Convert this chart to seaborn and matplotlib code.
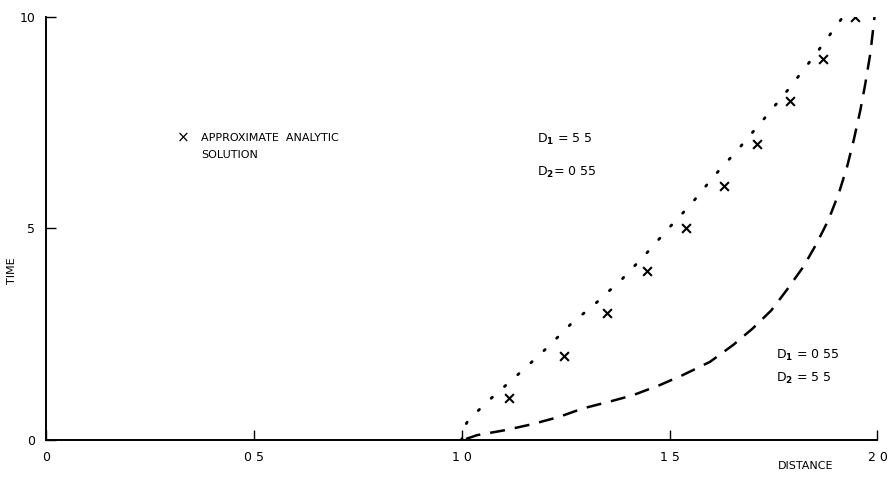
import matplotlib
matplotlib.use("Agg")
import matplotlib.pyplot as plt
import seaborn as sns

# Approximate analytic solution (crosses)
cross_x = [1.113, 1.245, 1.349, 1.445, 1.540, 1.630, 1.711, 1.790, 1.870, 1.946]
cross_t = [1, 2, 3, 4, 5, 6, 7, 8, 9, 10]

# D1 = 5.5, D2 = 0.55 (dotted curve)
dot_x = [1.000, 1.001, 1.015, 1.057, 1.097, 1.151, 1.208, 1.262, 1.324, 1.387,
         1.444, 1.498, 1.552, 1.607, 1.664, 1.728, 1.786, 1.850, 1.915]
dot_t = [0.0, 0.24, 0.46, 0.87, 1.22, 1.69, 2.21, 2.74, 3.25, 3.82,
         4.41, 5.01, 5.58, 6.24, 6.86, 7.60, 8.29, 9.10, 9.97]

# D1 = 0.55, D2 = 5.5 (dashed curve)
dash_x = [1.010, 1.037, 1.106, 1.170, 1.234, 1.291, 1.355, 1.411, 1.476, 1.532,
          1.597, 1.653, 1.700, 1.745, 1.782, 1.822, 1.854, 1.882, 1.907, 1.927,
          1.943, 1.959, 1.971, 1.983, 1.993]
dash_t = [0.03, 0.12, 0.24, 0.38, 0.55, 0.75, 0.91, 1.06, 1.30, 1.54,
          1.85, 2.25, 2.64, 3.07, 3.55, 4.10, 4.65, 5.20, 5.83, 6.46,
          7.09, 7.80, 8.43, 9.14, 10.0]

x_ticks = [0, 0.5, 1.0, 1.5, 2.0]
x_tick_labels = ["0", "0 5", "1 0", "1 5", "2 0"]
y_ticks = [0, 5, 10]
y_tick_labels = ["0", "5", "10"]

sns.set_style("white")
plt.rcParams['font.family'] = ['DejaVu Sans']
plt.rcParams['text.color'] = 'black'

fig = plt.figure(figsize=(8.89, 4.79), dpi=100)
ax = fig.add_axes([0.052, 0.081, 0.935, 0.884])

sns.lineplot(x=dot_x, y=dot_t, sort=False, ax=ax, color="black",
             linewidth=2.0, linestyle=(0, (0.6, 5.8)), dash_capstyle="round")
sns.lineplot(x=dash_x, y=dash_t, sort=False, ax=ax, color="black",
             linewidth=1.8, linestyle=(0, (6, 4)))
sns.scatterplot(x=cross_x, y=cross_t, ax=ax, marker="x", color="black",
                s=40, linewidth=1.5)

ax.set_xlim(0, 2.0)
ax.set_ylim(0, 10)
ax.set_xticks(x_ticks)
ax.set_xticklabels(x_tick_labels, fontsize=9, color="black")
ax.set_yticks(y_ticks)
ax.set_yticklabels(y_tick_labels, fontsize=9, color="black")
ax.tick_params(axis="both", direction="in", length=7, width=1, color="black",
               pad=8, bottom=True, left=True, labelcolor="black")
for s in ["top", "right"]:
    ax.spines[s].set_visible(False)
for s in ["left", "bottom"]:
    ax.spines[s].set_color("black")
    ax.spines[s].set_linewidth(1.4)

ax.set_xlabel("")
ax.set_ylabel("")
fig.text(0.906, 0.027, "DISTANCE", fontsize=8, ha="center", va="center")
fig.text(0.014, 0.435, "TIME", fontsize=8, ha="center", va="center", rotation=90)

fig.text(0.206, 0.712, "×", fontsize=11, ha="center", va="center")
fig.text(0.226, 0.712, "APPROXIMATE  ANALYTIC", fontsize=8, ha="left", va="center")
fig.text(0.226, 0.677, "SOLUTION", fontsize=8, ha="left", va="center")

fig.text(0.604, 0.708, r"D$_{\mathbf{1}}$ = 5 5", fontsize=9, ha="left", va="center")
fig.text(0.604, 0.640, r"D$_{\mathbf{2}}$= 0 55", fontsize=9, ha="left", va="center")
fig.text(0.873, 0.258, r"D$_{\mathbf{1}}$ = 0 55", fontsize=9, ha="left", va="center")
fig.text(0.873, 0.210, r"D$_{\mathbf{2}}$ = 5 5", fontsize=9, ha="left", va="center")

fig.savefig("out.png", dpi=100)
